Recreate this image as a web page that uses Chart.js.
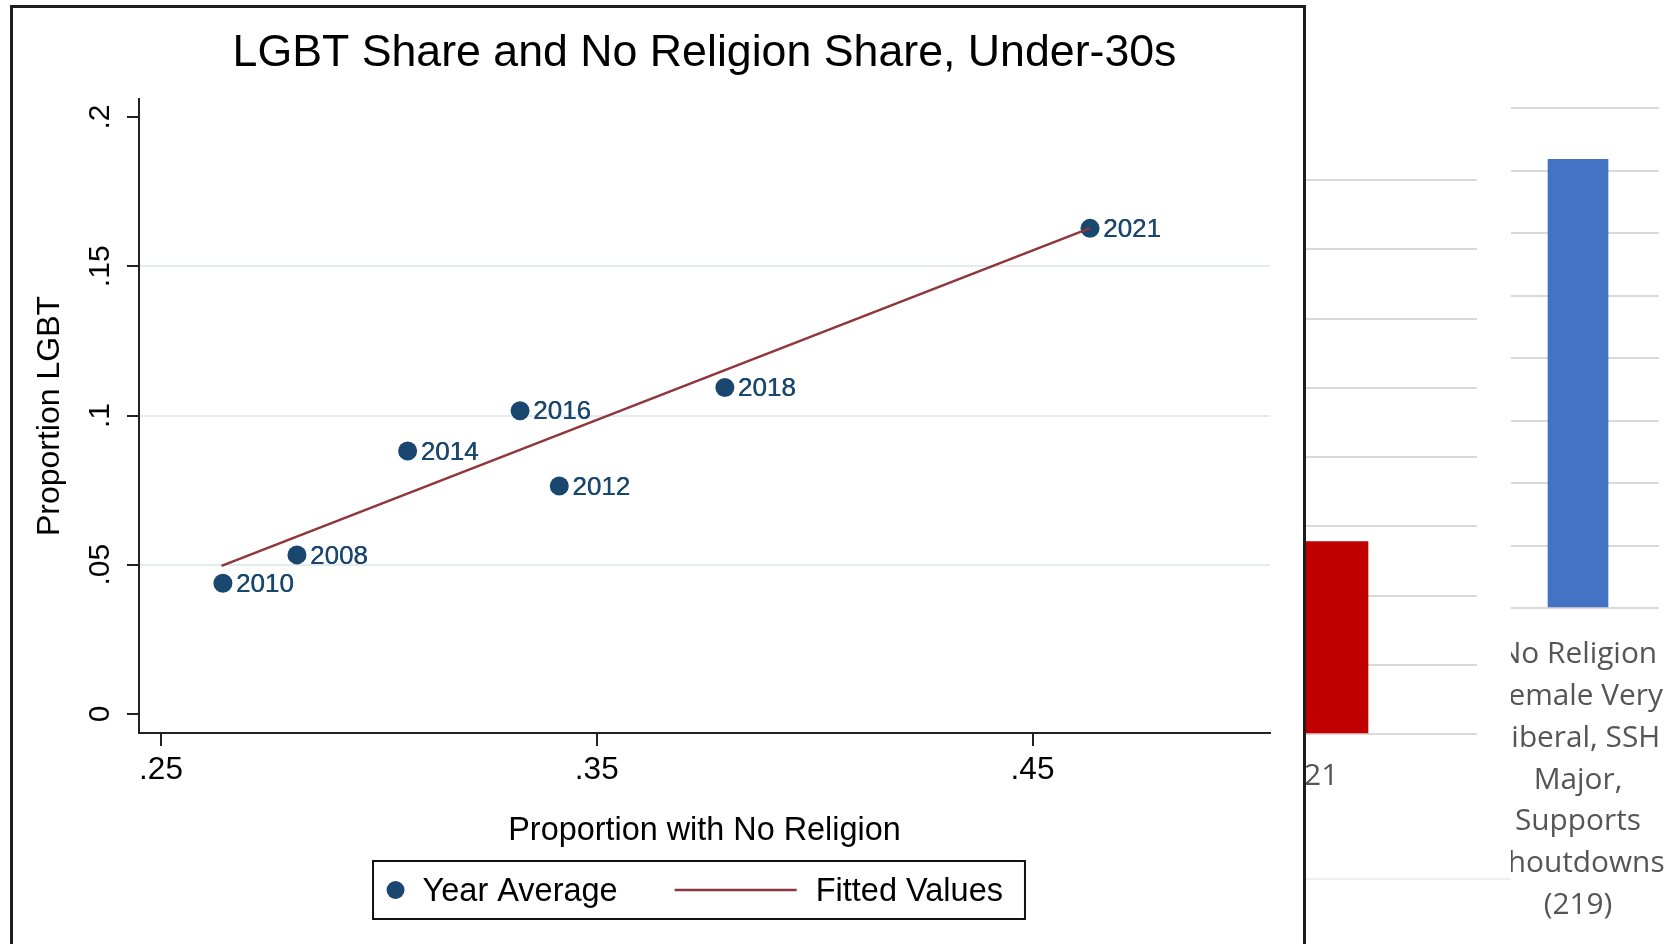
<!DOCTYPE html>
<html>
<head>
<meta charset="utf-8">
<title>LGBT Share and No Religion Share, Under-30s</title>
<script src="https://cdn.jsdelivr.net/npm/chart.js@4.4.1/dist/chart.umd.min.js"></script>
<style>
  html, body { margin: 0; padding: 0; background: #fff; width: 1664px; height: 944px; overflow: hidden; position: relative; }
  #frame { position: absolute; left: 10px; top: 5px; width: 1290px; height: 1000px; border: 3px solid #1e1e1e; background: #fff; z-index: 3; }
  #frame canvas { position: absolute; left: 0; top: 0; }
  #leftBox { position: absolute; left: 1100px; top: 0; width: 411px; height: 878px; border-bottom: 2px solid #efefef; z-index: 1; }
  #leftBox canvas { position: absolute; left: 0; top: 0; }
  #rightBox { position: absolute; left: 1511px; top: 0; width: 153px; height: 944px; overflow: hidden; z-index: 1; }
  #rightBox canvas { position: absolute; left: -35px; top: 0; }
</style>
</head>
<body>
<div id="leftBox"><canvas id="leftBars" width="377" height="878"></canvas></div>
<div id="rightBox"><canvas id="rightBars" width="204" height="944"></canvas></div>
<div id="frame"><canvas id="main" width="1290" height="936"></canvas></div>

<script>
// main scatter: year averages
const years = ['2010', '2008', '2014', '2016', '2012', '2018', '2021'];
const noReligion = [0.2642, 0.2812, 0.3066, 0.3324, 0.3414, 0.3794, 0.4632];
const lgbtShare = [0.0438, 0.0533, 0.0881, 0.1016, 0.0764, 0.1094, 0.1627];

// fitted line end points
const fitX = [0.2639, 0.4632];
const fitY = [0.0496, 0.1628];

const xTicks = [0.25, 0.35, 0.45];
const xTickLabels = ['.25', '.35', '.45'];
const yTicks = [0, 0.05, 0.1, 0.15, 0.2];
const yTickLabels = ['0', '.05', '.1', '.15', '.2'];

// cropped neighbour charts on the right
const leftCats = ['2021'];
const leftValues = [2.78];
const rightCats = [['No Religion', 'Female Very', 'Liberal, SSH', 'Major,', 'Supports', 'Shoutdowns', '(219)']];
const rightValues = [7.18];

const stataFont = '"Liberation Sans", Arial, Helvetica, sans-serif';
const navy = '#1a476f';
const maroon = '#90353b';
const axisColor = '#222';

// stata style vertical y tick labels
const yTickText = {
    id: 'yTickText',
    afterDraw(chart) {
        const scale = chart.scales.y;
        const ctx = chart.ctx;
        ctx.save();
        ctx.font = '30px ' + stataFont;
        ctx.fillStyle = '#000';
        ctx.textAlign = 'center';
        ctx.textBaseline = 'middle';
        yTicks.forEach((v, i) => {
            ctx.save();
            ctx.translate(scale.right - 38, scale.getPixelForValue(v));
            ctx.rotate(-Math.PI / 2);
            ctx.fillText(yTickLabels[i], 0, 0);
            ctx.restore();
        });
        ctx.restore();
    }
};

// year labels at 3 o'clock of each marker
const yearLabels = {
    id: 'yearLabels',
    afterDatasetsDraw(chart) {
        const meta = chart.getDatasetMeta(1);
        const ctx = chart.ctx;
        ctx.save();
        ctx.font = '26px ' + stataFont;
        ctx.fillStyle = navy;
        ctx.textAlign = 'left';
        ctx.textBaseline = 'middle';
        meta.data.forEach((pt, i) => {
            // a light second pass thickens the glyphs like the original export
            ctx.fillText(years[i], pt.x + 13, pt.y + 1.5);
            ctx.fillText(years[i], pt.x + 13.4, pt.y + 1.5);
        });
        ctx.restore();
    }
};

// boxed legend under the x title
const stataLegend = {
    id: 'stataLegend',
    afterDraw(chart) {
        const ctx = chart.ctx;
        const ca = chart.chartArea;
        const dots = chart.data.datasets[1];
        const fit = chart.data.datasets[0];
        ctx.save();
        ctx.font = '32.5px ' + stataFont;
        const w1 = ctx.measureText(dots.label).width;
        const w2 = ctx.measureText(fit.label).width;
        const boxW = 22.5 + 9 + 18 + w1 + 57 + 122 + 19 + w2 + 22;
        const left = (ca.left + ca.right) / 2 - 5.5 - boxW / 2;
        const top = ca.bottom + 128;
        const h = 58;
        const mid = top + h / 2;
        ctx.lineWidth = 2;
        ctx.strokeStyle = '#111';
        ctx.strokeRect(left, top, boxW, h);
        ctx.fillStyle = dots.backgroundColor;
        ctx.beginPath();
        ctx.arc(left + 22.5, mid, 9, 0, Math.PI * 2);
        ctx.fill();
        ctx.fillStyle = '#000';
        ctx.textAlign = 'left';
        ctx.textBaseline = 'middle';
        const t1 = left + 22.5 + 9 + 18;
        ctx.fillText(dots.label, t1, mid + 2.5);
        const l1 = t1 + w1 + 57;
        ctx.strokeStyle = fit.borderColor;
        ctx.lineWidth = 2.5;
        ctx.beginPath();
        ctx.moveTo(l1, mid);
        ctx.lineTo(l1 + 122, mid);
        ctx.stroke();
        ctx.fillText(fit.label, l1 + 122 + 19, mid + 2.5);
        ctx.restore();
    }
};

new Chart(document.getElementById('main'), {
    data: {
        datasets: [{
            type: 'line',
            label: 'Fitted Values',
            data: fitX.map((x, i) => ({ x: x, y: fitY[i] })),
            borderColor: maroon,
            borderWidth: 2.5,
            pointRadius: 0,
            fill: false,
            order: 1
        }, {
            type: 'scatter',
            label: 'Year Average',
            data: noReligion.map((x, i) => ({ x: x, y: lgbtShare[i] })),
            backgroundColor: navy,
            borderColor: navy,
            borderWidth: 0,
            pointRadius: 9.5,
            order: 2
        }]
    },
    options: {
        responsive: false,
        animation: false,
        layout: { padding: { left: 0, right: 33, top: 0, bottom: 81 } },
        plugins: {
            legend: { display: false },
            tooltip: { enabled: false },
            title: {
                display: true,
                fullSize: false,
                text: 'LGBT Share and No Religion Share, Under-30s',
                color: '#000',
                font: { family: stataFont, size: 44.7, weight: 'normal', lineHeight: 1.2 },
                padding: { top: 18.4, bottom: 19 }
            }
        },
        scales: {
            x: {
                type: 'linear',
                position: 'bottom',
                min: 0.24495,
                max: 0.5045,
                afterBuildTicks: s => { s.ticks = xTicks.map(v => ({ value: v })); },
                afterFit: s => { s.height = 130; },
                ticks: {
                    callback: (v, i) => xTickLabels[i],
                    font: { family: stataFont, size: 31.5 },
                    color: '#000',
                    padding: 5,
                    maxRotation: 0,
                    autoSkip: false
                },
                grid: { drawOnChartArea: false, color: axisColor, lineWidth: 2, tickLength: 13 },
                border: { color: axisColor, width: 2 },
                title: {
                    display: true,
                    text: 'Proportion with No Religion',
                    color: '#000',
                    font: { family: stataFont, size: 32.4 },
                    padding: { top: 0, bottom: 12.5 }
                }
            },
            y: {
                type: 'linear',
                min: -0.00637,
                max: 0.20603,
                afterBuildTicks: s => { s.ticks = yTicks.map(v => ({ value: v })); },
                afterFit: s => { s.width = 126; },
                ticks: { display: false },
                grid: {
                    color: c => (c.tick && c.tick.value > 0.001 && c.tick.value < 0.199) ? '#e4eced' : 'rgba(0,0,0,0)',
                    lineWidth: 2,
                    tickLength: 12,
                    tickColor: axisColor,
                    tickWidth: 2
                },
                border: { color: axisColor, width: 2 },
                title: {
                    display: true,
                    text: 'Proportion LGBT',
                    color: '#000',
                    font: { family: stataFont, size: 32 },
                    padding: { top: 18, bottom: 0 }
                }
            }
        }
    },
    plugins: [yTickText, yearLabels, stataLegend]
});

const excelFont = '"Open Sans", Calibri, sans-serif';

new Chart(document.getElementById('leftBars'), {
    type: 'bar',
    data: {
        labels: leftCats,
        datasets: [{ data: leftValues, backgroundColor: '#c00000', barThickness: 128 }]
    },
    options: {
        responsive: false,
        animation: false,
        layout: { padding: { left: 31, top: 180, right: 0, bottom: 0 } },
        plugins: { legend: { display: false }, tooltip: { enabled: false } },
        scales: {
            x: {
                grid: { display: false, drawTicks: false },
                border: { display: false },
                ticks: { color: '#555', font: { family: excelFont, size: 30 }, padding: 24 },
                afterFit: s => { s.height = 144; }
            },
            y: {
                min: 0,
                max: 8,
                ticks: { display: false, stepSize: 1 },
                grid: { color: '#d9d9d9', lineWidth: 2, drawTicks: false },
                border: { display: false },
                afterFit: s => { s.width = 0; }
            }
        }
    }
});

new Chart(document.getElementById('rightBars'), {
    type: 'bar',
    data: {
        labels: rightCats,
        datasets: [{ data: rightValues, backgroundColor: '#4472c4', barThickness: 60 }]
    },
    options: {
        responsive: false,
        animation: false,
        layout: { padding: { left: 0, top: 108, right: 0, bottom: 0 } },
        plugins: { legend: { display: false }, tooltip: { enabled: false } },
        scales: {
            x: {
                grid: { display: false, drawTicks: false },
                border: { display: false },
                ticks: { color: '#555', font: { family: excelFont, size: 29.8, lineHeight: 1.4 }, padding: 26, maxRotation: 0 },
                afterFit: s => { s.height = 336; }
            },
            y: {
                min: 0,
                max: 8,
                ticks: { display: false, stepSize: 1 },
                grid: { color: '#d9d9d9', lineWidth: 2, drawTicks: false },
                border: { display: false },
                afterFit: s => { s.width = 0; }
            }
        }
    }
});
</script>
</body>
</html>
